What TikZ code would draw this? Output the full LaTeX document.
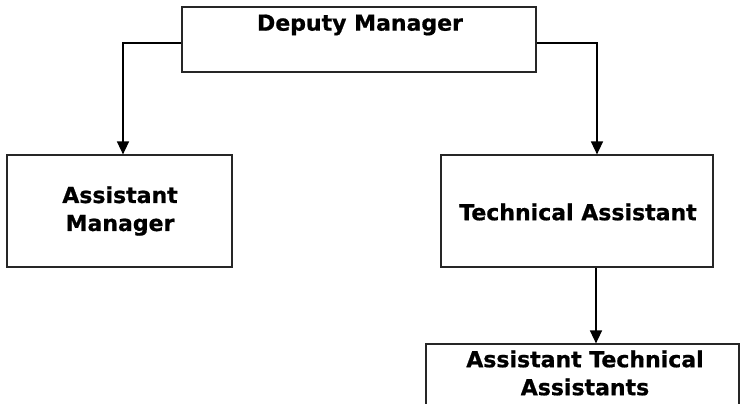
\documentclass[tikz,border=0pt]{standalone}
\usepackage{fontspec}
\setmainfont{DejaVu Sans}[BoldFeatures={FakeBold=0.8}]
\usetikzlibrary{arrows.meta}
\begin{document}
\begin{tikzpicture}[x=1pt,y=-1pt,
  box/.style={draw=black!85,line width=1.2pt,rectangle,inner sep=0pt},
  lbl/.style={font=\fontsize{22}{28}\selectfont\bfseries,align=center,inner sep=0pt},
  arr/.style={line width=1.5pt,-{Triangle[width=12pt,length=13pt]}}]
\useasboundingbox (0,0) rectangle (740,404);
\fill[white] (0,0) rectangle (740,404);
\node[box,minimum width=354pt,minimum height=65pt] (dm) at (359,39.5) {};
\node[lbl] (dmt) at (360,25) {Deputy Manager};
\node[box,minimum width=225pt,minimum height=112pt] (am) at (119.5,211) {};
\node[lbl] (amt) at (120,211) {Assistant\\Manager};
\node[box,minimum width=272pt,minimum height=112pt] (ta) at (577,211) {};
\node[lbl] (tat) at (578,212) {Technical Assistant};
\node[box,minimum width=313pt,minimum height=90pt] (at) at (582.5,389) {};
\node[lbl] (att) at (585,373) {Assistant Technical\\Assistants};
\coordinate (l1) at (123,43);
\coordinate (r1) at (597,43);
\draw[arr] (dm.west |- l1) -- (l1) -- (l1 |- am.north);
\draw[arr] (dm.east |- r1) -- (r1) -- (r1 |- ta.north);
\coordinate (b1) at (596,0);
\draw[arr] (b1 |- ta.south) -- (b1 |- at.north);
\end{tikzpicture}
\end{document}
